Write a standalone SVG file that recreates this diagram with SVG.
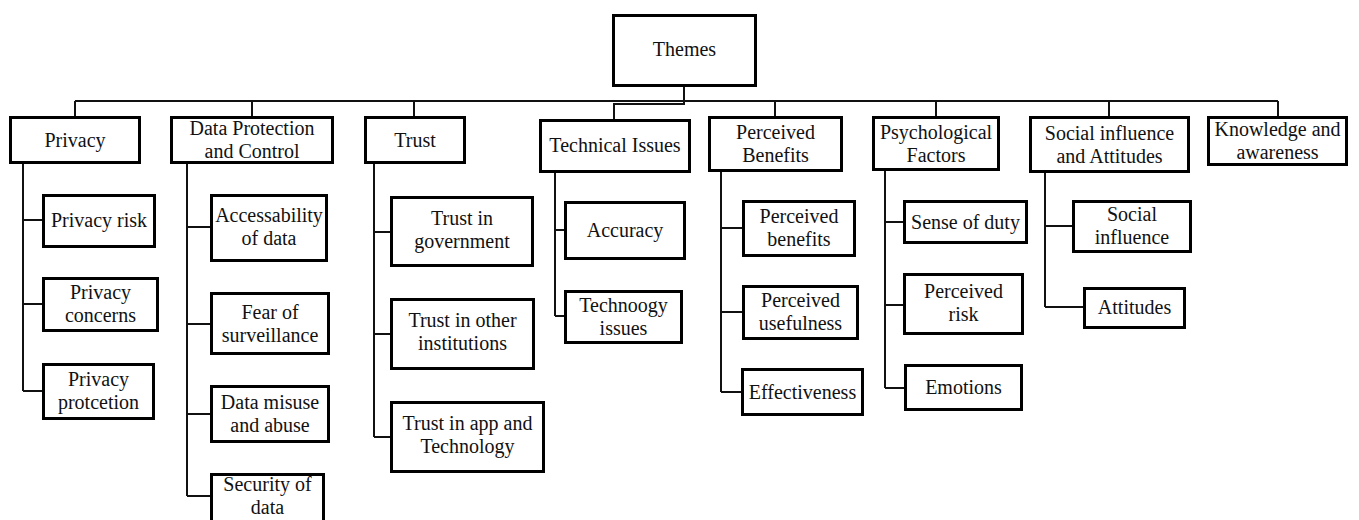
<svg xmlns="http://www.w3.org/2000/svg" width="1359" height="520" viewBox="0 0 1359 520">
<style>
rect.n{fill:#fff;stroke:#000;stroke-width:3}
text{font-size:20px;fill:#111;text-anchor:middle}
.c{fill:none;stroke:#111;stroke-width:2}
</style>
<rect width="1359" height="520" fill="#fff"/>
<g id="connectors">
<path class="c" d="M75,101H1278M684,87V104H614V119M75,101V116M252,101V116M414,101V116M775,101V116M936,101V116M1109,101V116M1278,101V116"/>
<path class="c" d="M23,164V391M23,220H42M23,304H42M23,391H42"/>
<path class="c" d="M187,164V496M187,227H210M187,324H210M187,414H210M187,496H210"/>
<path class="c" d="M374,164V437M374,232H390M374,334H390M374,437H390"/>
<path class="c" d="M555,173V316M555,230H564M555,316H564"/>
<path class="c" d="M721,172V392M721,228H742M721,312H742M721,392H741"/>
<path class="c" d="M885,171V388M885,222H903M885,305H903M885,388H904"/>
<path class="c" d="M1045,173V307M1045,226H1072M1045,307H1083"/>
</g>
<g font-family="Liberation Serif, DejaVu Serif, serif">
<g id="themes"><rect class="n" x="613.5" y="15.5" width="142" height="70"/><text x="684.5" y="56">Themes</text></g>
<g id="privacy"><rect class="n" x="10.5" y="117.5" width="129" height="45"/><text x="75" y="147">Privacy</text></g>
<g id="data-protection"><rect class="n" x="171.5" y="117.5" width="161" height="45"/><text x="252" y="135">Data Protection</text><text x="252" y="158">and Control</text></g>
<g id="trust"><rect class="n" x="365.5" y="117.5" width="99" height="45"/><text x="415" y="147">Trust</text></g>
<g id="technical-issues"><rect class="n" x="540.5" y="120.5" width="149" height="51"/><text x="615" y="152">Technical Issues</text></g>
<g id="perceived-benefits-theme"><rect class="n" x="709.5" y="117.5" width="132" height="53"/><text x="775.5" y="139">Perceived</text><text x="775.5" y="162">Benefits</text></g>
<g id="psychological-factors"><rect class="n" x="873.5" y="117.5" width="125" height="52"/><text x="936" y="139">Psychological</text><text x="936" y="162">Factors</text></g>
<g id="social-influence-attitudes"><rect class="n" x="1030.5" y="117.5" width="158" height="54"/><text x="1109.5" y="140">Social influence</text><text x="1109.5" y="163">and Attitudes</text></g>
<g id="knowledge"><rect class="n" x="1208.5" y="117.5" width="138" height="47"/><text x="1277.5" y="136">Knowledge and</text><text x="1277.5" y="159">awareness</text></g>
<g id="privacy-risk"><rect class="n" x="43.5" y="195.5" width="111" height="51"/><text x="99" y="227">Privacy risk</text></g>
<g id="privacy-concerns"><rect class="n" x="43.5" y="278.5" width="114" height="52"/><text x="100.5" y="299">Privacy</text><text x="100.5" y="322">concerns</text></g>
<g id="privacy-protcetion"><rect class="n" x="43.5" y="364.5" width="110" height="54"/><text x="98.5" y="386">Privacy</text><text x="98.5" y="409">protcetion</text></g>
<g id="accessability"><rect class="n" x="211.5" y="195.5" width="115" height="65"/><text x="269" y="222">Accessability</text><text x="269" y="245">of data</text></g>
<g id="fear"><rect class="n" x="211.5" y="293.5" width="117" height="60"/><text x="270" y="319">Fear of</text><text x="270" y="342">surveillance</text></g>
<g id="misuse"><rect class="n" x="211.5" y="386.5" width="117" height="55"/><text x="270" y="409">Data misuse</text><text x="270" y="432">and abuse</text></g>
<g id="security"><rect class="n" x="211.5" y="474.5" width="112" height="47"/><text x="267.5" y="491">Security of</text><text x="267.5" y="514">data</text></g>
<g id="trust-government"><rect class="n" x="391.5" y="197.5" width="141" height="68"/><text x="462" y="225">Trust in</text><text x="462" y="248">government</text></g>
<g id="trust-institutions"><rect class="n" x="391.5" y="299.5" width="142" height="69"/><text x="462.5" y="327">Trust in other</text><text x="462.5" y="350">institutions</text></g>
<g id="trust-app"><rect class="n" x="391.5" y="402.5" width="152" height="69"/><text x="467.5" y="430">Trust in app and</text><text x="467.5" y="453">Technology</text></g>
<g id="accuracy"><rect class="n" x="565.5" y="202.5" width="119" height="56"/><text x="625" y="237">Accuracy</text></g>
<g id="technoogy"><rect class="n" x="565.5" y="291.5" width="116" height="51"/><text x="623.5" y="312">Technoogy</text><text x="623.5" y="335">issues</text></g>
<g id="perceived-benefits"><rect class="n" x="743.5" y="201.5" width="111" height="54"/><text x="799" y="223">Perceived</text><text x="799" y="246">benefits</text></g>
<g id="perceived-usefulness"><rect class="n" x="743.5" y="286.5" width="114" height="52"/><text x="800.5" y="307">Perceived</text><text x="800.5" y="330">usefulness</text></g>
<g id="effectiveness"><rect class="n" x="742.5" y="369.5" width="120" height="45"/><text x="802.5" y="399">Effectiveness</text></g>
<g id="sense-duty"><rect class="n" x="904.5" y="201.5" width="122" height="41"/><text x="965.5" y="229">Sense of duty</text></g>
<g id="perceived-risk"><rect class="n" x="904.5" y="274.5" width="118" height="59"/><text x="963.5" y="298">Perceived</text><text x="963.5" y="321">risk</text></g>
<g id="emotions"><rect class="n" x="905.5" y="365.5" width="116" height="44"/><text x="963.5" y="394">Emotions</text></g>
<g id="social-influence"><rect class="n" x="1073.5" y="201.5" width="117" height="50"/><text x="1132" y="221">Social</text><text x="1132" y="244">influence</text></g>
<g id="attitudes"><rect class="n" x="1084.5" y="288.5" width="100" height="39"/><text x="1134.5" y="314">Attitudes</text></g>
</g>
</svg>
